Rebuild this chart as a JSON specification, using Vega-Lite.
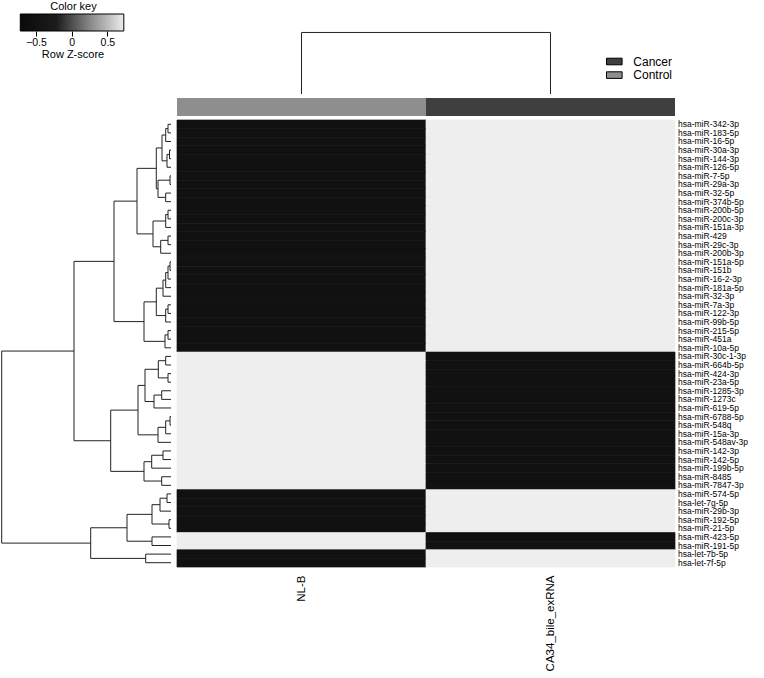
{
"$schema": "https://vega.github.io/schema/vega-lite/v6.json",
"padding": {"left": 0, "top": 0, "right": 0, "bottom": 0},
"background": "white",
"config": {"view": {"stroke": null}, "font": "Liberation Sans"},
"columns": 2,
"align": "each",
"bounds": "flush",
"spacing": {"row": 4, "column": 6},
"resolve": {"scale": {"color": "independent"}, "legend": {"color": "independent"}},
"datasets": {
"tree": [
{"node":"N1","height":3,"top":1,"topHeight":0,"bottom":2,"bottomHeight":0},
{"node":"N2","height":5.3,"top":1.5,"topHeight":3,"bottom":3,"bottomHeight":0},
{"node":"N3","height":1.5,"top":4,"topHeight":0,"bottom":5,"bottomHeight":0},
{"node":"N4","height":4,"top":4.5,"topHeight":1.5,"bottom":6,"bottomHeight":0},
{"node":"N5","height":9,"top":2.25,"topHeight":5.3,"bottom":5.25,"bottomHeight":4},
{"node":"N6","height":1,"top":7,"topHeight":0,"bottom":8,"bottomHeight":0},
{"node":"N7","height":5.3,"top":9,"topHeight":0,"bottom":10,"bottomHeight":0},
{"node":"N8","height":13,"top":7.5,"topHeight":1,"bottom":9.5,"bottomHeight":5.3},
{"node":"N9","height":14.7,"top":3.75,"topHeight":9,"bottom":8.5,"bottomHeight":13},
{"node":"N10","height":3,"top":11,"topHeight":0,"bottom":12,"bottomHeight":0},
{"node":"N11","height":5.3,"top":11.5,"topHeight":3,"bottom":13,"bottomHeight":0},
{"node":"N12","height":3,"top":14,"topHeight":0,"bottom":15,"bottomHeight":0},
{"node":"N13","height":10.3,"top":14.5,"topHeight":3,"bottom":16,"bottomHeight":0},
{"node":"N14","height":18,"top":12.25,"topHeight":5.3,"bottom":15.25,"bottomHeight":10.3},
{"node":"N15","height":34,"top":6.125,"topHeight":14.7,"bottom":13.75,"bottomHeight":18},
{"node":"N16","height":1,"top":17,"topHeight":0,"bottom":18,"bottomHeight":0},
{"node":"N17","height":3,"top":17.5,"topHeight":1,"bottom":19,"bottomHeight":0},
{"node":"N18","height":5.3,"top":18.25,"topHeight":3,"bottom":20,"bottomHeight":0},
{"node":"N19","height":8,"top":19.125,"topHeight":5.3,"bottom":21,"bottomHeight":0},
{"node":"N20","height":3,"top":22,"topHeight":0,"bottom":23,"bottomHeight":0},
{"node":"N21","height":5.3,"top":22.5,"topHeight":3,"bottom":24,"bottomHeight":0},
{"node":"N22","height":14.7,"top":20.0625,"topHeight":8,"bottom":23.25,"bottomHeight":5.3},
{"node":"N23","height":3,"top":25,"topHeight":0,"bottom":26,"bottomHeight":0},
{"node":"N24","height":6,"top":25.5,"topHeight":3,"bottom":27,"bottomHeight":0},
{"node":"N25","height":27,"top":21.656,"topHeight":14.7,"bottom":26.25,"bottomHeight":6},
{"node":"N26","height":57,"top":9.9375,"topHeight":34,"bottom":23.953,"bottomHeight":27},
{"node":"M1","height":5.3,"top":28,"topHeight":0,"bottom":29,"bottomHeight":0},
{"node":"M2","height":3,"top":30,"topHeight":0,"bottom":31,"bottomHeight":0},
{"node":"M3","height":12.7,"top":28.5,"topHeight":5.3,"bottom":30.5,"bottomHeight":3},
{"node":"M4","height":9.3,"top":32,"topHeight":0,"bottom":33,"bottomHeight":0},
{"node":"M5","height":17,"top":32.5,"topHeight":9.3,"bottom":34,"bottomHeight":0},
{"node":"M6","height":26,"top":29.5,"topHeight":12.7,"bottom":33.25,"bottomHeight":17},
{"node":"M7","height":1,"top":35,"topHeight":0,"bottom":36,"bottomHeight":0},
{"node":"M8","height":5.3,"top":35.5,"topHeight":1,"bottom":37,"bottomHeight":0},
{"node":"M9","height":13,"top":36.25,"topHeight":5.3,"bottom":38,"bottomHeight":0},
{"node":"M10","height":33,"top":31.375,"topHeight":26,"bottom":37.125,"bottomHeight":13},
{"node":"M11","height":8,"top":39,"topHeight":0,"bottom":40,"bottomHeight":0},
{"node":"M12","height":19.3,"top":39.5,"topHeight":8,"bottom":41,"bottomHeight":0},
{"node":"M13","height":9.3,"top":42,"topHeight":0,"bottom":43,"bottomHeight":0},
{"node":"M14","height":27,"top":40.25,"topHeight":19.3,"bottom":42.5,"bottomHeight":9.3},
{"node":"M15","height":60.3,"top":34.25,"topHeight":33,"bottom":41.375,"bottomHeight":27},
{"node":"T","height":97,"top":16.945,"topHeight":57,"bottom":37.8125,"bottomHeight":60.3},
{"node":"B1","height":4,"top":44,"topHeight":0,"bottom":45,"bottomHeight":0},
{"node":"B2","height":11,"top":44.5,"topHeight":4,"bottom":46,"bottomHeight":0},
{"node":"B3","height":2,"top":47,"topHeight":0,"bottom":48,"bottomHeight":0},
{"node":"B4","height":19,"top":45.25,"topHeight":11,"bottom":47.5,"bottomHeight":2},
{"node":"B5","height":19,"top":49,"topHeight":0,"bottom":50,"bottomHeight":0},
{"node":"B6","height":44,"top":46.375,"topHeight":19,"bottom":49.5,"bottomHeight":19},
{"node":"B7","height":25.3,"top":51,"topHeight":0,"bottom":52,"bottomHeight":0},
{"node":"B8","height":80.3,"top":47.9375,"topHeight":44,"bottom":51.5,"bottomHeight":25.3},
{"node":"R","height":169.3,"top":27.379,"topHeight":97,"bottom":49.719,"bottomHeight":80.3}
],
"cells": [
{"gene":"hsa-miR-342-3p","sample":"NL-B","z":-0.707},{"gene":"hsa-miR-342-3p","sample":"CA34_bile_exRNA","z":0.707},
{"gene":"hsa-miR-183-5p","sample":"NL-B","z":-0.707},{"gene":"hsa-miR-183-5p","sample":"CA34_bile_exRNA","z":0.707},
{"gene":"hsa-miR-16-5p","sample":"NL-B","z":-0.707},{"gene":"hsa-miR-16-5p","sample":"CA34_bile_exRNA","z":0.707},
{"gene":"hsa-miR-30a-3p","sample":"NL-B","z":-0.707},{"gene":"hsa-miR-30a-3p","sample":"CA34_bile_exRNA","z":0.707},
{"gene":"hsa-miR-144-3p","sample":"NL-B","z":-0.707},{"gene":"hsa-miR-144-3p","sample":"CA34_bile_exRNA","z":0.707},
{"gene":"hsa-miR-126-5p","sample":"NL-B","z":-0.707},{"gene":"hsa-miR-126-5p","sample":"CA34_bile_exRNA","z":0.707},
{"gene":"hsa-miR-7-5p","sample":"NL-B","z":-0.707},{"gene":"hsa-miR-7-5p","sample":"CA34_bile_exRNA","z":0.707},
{"gene":"hsa-miR-29a-3p","sample":"NL-B","z":-0.707},{"gene":"hsa-miR-29a-3p","sample":"CA34_bile_exRNA","z":0.707},
{"gene":"hsa-miR-32-5p","sample":"NL-B","z":-0.707},{"gene":"hsa-miR-32-5p","sample":"CA34_bile_exRNA","z":0.707},
{"gene":"hsa-miR-374b-5p","sample":"NL-B","z":-0.707},{"gene":"hsa-miR-374b-5p","sample":"CA34_bile_exRNA","z":0.707},
{"gene":"hsa-miR-200b-5p","sample":"NL-B","z":-0.707},{"gene":"hsa-miR-200b-5p","sample":"CA34_bile_exRNA","z":0.707},
{"gene":"hsa-miR-200c-3p","sample":"NL-B","z":-0.707},{"gene":"hsa-miR-200c-3p","sample":"CA34_bile_exRNA","z":0.707},
{"gene":"hsa-miR-151a-3p","sample":"NL-B","z":-0.707},{"gene":"hsa-miR-151a-3p","sample":"CA34_bile_exRNA","z":0.707},
{"gene":"hsa-miR-429","sample":"NL-B","z":-0.707},{"gene":"hsa-miR-429","sample":"CA34_bile_exRNA","z":0.707},
{"gene":"hsa-miR-29c-3p","sample":"NL-B","z":-0.707},{"gene":"hsa-miR-29c-3p","sample":"CA34_bile_exRNA","z":0.707},
{"gene":"hsa-miR-200b-3p","sample":"NL-B","z":-0.707},{"gene":"hsa-miR-200b-3p","sample":"CA34_bile_exRNA","z":0.707},
{"gene":"hsa-miR-151a-5p","sample":"NL-B","z":-0.707},{"gene":"hsa-miR-151a-5p","sample":"CA34_bile_exRNA","z":0.707},
{"gene":"hsa-miR-151b","sample":"NL-B","z":-0.707},{"gene":"hsa-miR-151b","sample":"CA34_bile_exRNA","z":0.707},
{"gene":"hsa-miR-16-2-3p","sample":"NL-B","z":-0.707},{"gene":"hsa-miR-16-2-3p","sample":"CA34_bile_exRNA","z":0.707},
{"gene":"hsa-miR-181a-5p","sample":"NL-B","z":-0.707},{"gene":"hsa-miR-181a-5p","sample":"CA34_bile_exRNA","z":0.707},
{"gene":"hsa-miR-32-3p","sample":"NL-B","z":-0.707},{"gene":"hsa-miR-32-3p","sample":"CA34_bile_exRNA","z":0.707},
{"gene":"hsa-miR-7a-3p","sample":"NL-B","z":-0.707},{"gene":"hsa-miR-7a-3p","sample":"CA34_bile_exRNA","z":0.707},
{"gene":"hsa-miR-122-3p","sample":"NL-B","z":-0.707},{"gene":"hsa-miR-122-3p","sample":"CA34_bile_exRNA","z":0.707},
{"gene":"hsa-miR-99b-5p","sample":"NL-B","z":-0.707},{"gene":"hsa-miR-99b-5p","sample":"CA34_bile_exRNA","z":0.707},
{"gene":"hsa-miR-215-5p","sample":"NL-B","z":-0.707},{"gene":"hsa-miR-215-5p","sample":"CA34_bile_exRNA","z":0.707},
{"gene":"hsa-miR-451a","sample":"NL-B","z":-0.707},{"gene":"hsa-miR-451a","sample":"CA34_bile_exRNA","z":0.707},
{"gene":"hsa-miR-10a-5p","sample":"NL-B","z":-0.707},{"gene":"hsa-miR-10a-5p","sample":"CA34_bile_exRNA","z":0.707},
{"gene":"hsa-miR-30c-1-3p","sample":"NL-B","z":0.707},{"gene":"hsa-miR-30c-1-3p","sample":"CA34_bile_exRNA","z":-0.707},
{"gene":"hsa-miR-664b-5p","sample":"NL-B","z":0.707},{"gene":"hsa-miR-664b-5p","sample":"CA34_bile_exRNA","z":-0.707},
{"gene":"hsa-miR-424-3p","sample":"NL-B","z":0.707},{"gene":"hsa-miR-424-3p","sample":"CA34_bile_exRNA","z":-0.707},
{"gene":"hsa-miR-23a-5p","sample":"NL-B","z":0.707},{"gene":"hsa-miR-23a-5p","sample":"CA34_bile_exRNA","z":-0.707},
{"gene":"hsa-miR-1285-3p","sample":"NL-B","z":0.707},{"gene":"hsa-miR-1285-3p","sample":"CA34_bile_exRNA","z":-0.707},
{"gene":"hsa-miR-1273c","sample":"NL-B","z":0.707},{"gene":"hsa-miR-1273c","sample":"CA34_bile_exRNA","z":-0.707},
{"gene":"hsa-miR-619-5p","sample":"NL-B","z":0.707},{"gene":"hsa-miR-619-5p","sample":"CA34_bile_exRNA","z":-0.707},
{"gene":"hsa-miR-6788-5p","sample":"NL-B","z":0.707},{"gene":"hsa-miR-6788-5p","sample":"CA34_bile_exRNA","z":-0.707},
{"gene":"hsa-miR-548q","sample":"NL-B","z":0.707},{"gene":"hsa-miR-548q","sample":"CA34_bile_exRNA","z":-0.707},
{"gene":"hsa-miR-15a-3p","sample":"NL-B","z":0.707},{"gene":"hsa-miR-15a-3p","sample":"CA34_bile_exRNA","z":-0.707},
{"gene":"hsa-miR-548av-3p","sample":"NL-B","z":0.707},{"gene":"hsa-miR-548av-3p","sample":"CA34_bile_exRNA","z":-0.707},
{"gene":"hsa-miR-142-3p","sample":"NL-B","z":0.707},{"gene":"hsa-miR-142-3p","sample":"CA34_bile_exRNA","z":-0.707},
{"gene":"hsa-miR-142-5p","sample":"NL-B","z":0.707},{"gene":"hsa-miR-142-5p","sample":"CA34_bile_exRNA","z":-0.707},
{"gene":"hsa-miR-199b-5p","sample":"NL-B","z":0.707},{"gene":"hsa-miR-199b-5p","sample":"CA34_bile_exRNA","z":-0.707},
{"gene":"hsa-miR-8485","sample":"NL-B","z":0.707},{"gene":"hsa-miR-8485","sample":"CA34_bile_exRNA","z":-0.707},
{"gene":"hsa-miR-7847-3p","sample":"NL-B","z":0.707},{"gene":"hsa-miR-7847-3p","sample":"CA34_bile_exRNA","z":-0.707},
{"gene":"hsa-miR-574-5p","sample":"NL-B","z":-0.707},{"gene":"hsa-miR-574-5p","sample":"CA34_bile_exRNA","z":0.707},
{"gene":"hsa-let-7g-5p","sample":"NL-B","z":-0.707},{"gene":"hsa-let-7g-5p","sample":"CA34_bile_exRNA","z":0.707},
{"gene":"hsa-miR-29b-3p","sample":"NL-B","z":-0.707},{"gene":"hsa-miR-29b-3p","sample":"CA34_bile_exRNA","z":0.707},
{"gene":"hsa-miR-192-5p","sample":"NL-B","z":-0.707},{"gene":"hsa-miR-192-5p","sample":"CA34_bile_exRNA","z":0.707},
{"gene":"hsa-miR-21-5p","sample":"NL-B","z":-0.707},{"gene":"hsa-miR-21-5p","sample":"CA34_bile_exRNA","z":0.707},
{"gene":"hsa-miR-423-5p","sample":"NL-B","z":0.707},{"gene":"hsa-miR-423-5p","sample":"CA34_bile_exRNA","z":-0.707},
{"gene":"hsa-miR-191-5p","sample":"NL-B","z":0.707},{"gene":"hsa-miR-191-5p","sample":"CA34_bile_exRNA","z":-0.707},
{"gene":"hsa-let-7b-5p","sample":"NL-B","z":-0.707},{"gene":"hsa-let-7b-5p","sample":"CA34_bile_exRNA","z":0.707},
{"gene":"hsa-let-7f-5p","sample":"NL-B","z":-0.707},{"gene":"hsa-let-7f-5p","sample":"CA34_bile_exRNA","z":0.707}
]
},
"concat": [
{
"width": 171, "height": 17,
"title": {"text": "Color key", "fontSize": 11, "fontWeight": "normal", "offset": 2, "dx": -12, "anchor": "middle", "color": "black"},
"data": {"values": [{"low": -0.72, "high": 0.73}]},
"mark": {"type": "rect", "stroke": "black", "strokeWidth": 1,
  "fill": {"gradient": "linear", "x1": 0, "y1": 0, "x2": 1, "y2": 0,
    "stops": [{"offset": 0, "color": "#0a0a0a"}, {"offset": 0.35, "color": "#1c1c1c"}, {"offset": 0.65, "color": "#808080"}, {"offset": 1, "color": "#ececec"}]}},
"encoding": {
  "x": {"field": "low", "type": "quantitative", "scale": {"domain": [-1.004, 1.391], "nice": false, "zero": false},
    "axis": {"values": [-0.5, 0, 0.5], "format": "~g", "domain": false, "grid": false, "tickSize": 5, "tickColor": "black", "labelFontSize": 10.5, "labelColor": "black", "labelPadding": 1, "title": "Row Z-score", "titleFontSize": 11, "titleFontWeight": "normal", "titleColor": "black", "titleX": 72.5, "titlePadding": 1}},
  "x2": {"field": "high"},
  "y": {"datum": 0, "type": "quantitative", "scale": {"domain": [0, 1], "nice": false}, "axis": null},
  "y2": {"datum": 1}
}
},
{
"width": 498, "height": 80,
"data": {"values": [{"left": 0.5, "right": 1.5, "height": 1}]},
"layer": [
  {"mark": {"type": "rule", "color": "#222222", "strokeWidth": 1},
   "encoding": {"x": {"field": "left", "type": "quantitative", "scale": {"domain": [0, 2], "nice": false}, "axis": null},
     "x2": {"field": "right"},
     "y": {"field": "height", "type": "quantitative", "scale": {"domain": [0, 1.3], "nice": false}, "axis": null}}},
  {"mark": {"type": "rule", "color": "#222222", "strokeWidth": 1},
   "encoding": {"x": {"field": "left", "type": "quantitative", "axis": null},
     "y": {"field": "height", "type": "quantitative", "axis": null}, "y2": {"datum": 0}}},
  {"mark": {"type": "rule", "color": "#222222", "strokeWidth": 1},
   "encoding": {"x": {"field": "right", "type": "quantitative", "axis": null},
     "y": {"field": "height", "type": "quantitative", "axis": null}, "y2": {"datum": 0}}}
]
},
{
"width": 171, "height": 18,
"data": {"values": []},
"mark": "point"
},
{
"width": 498, "height": 18,
"data": {"values": [{"sample": "NL-B", "group": "Control"}, {"sample": "CA34_bile_exRNA", "group": "Cancer"}]},
"mark": {"type": "rect"},
"encoding": {
  "x": {"field": "sample", "type": "nominal", "sort": ["NL-B", "CA34_bile_exRNA"], "scale": {"paddingInner": 0, "paddingOuter": 0}, "axis": null},
  "color": {"field": "group", "type": "nominal", "scale": {"domain": ["Cancer", "Control"], "range": ["#3f3f3f", "#8e8e8e"]},
    "legend": {"title": null, "orient": "none", "legendX": 430.8, "legendY": -43, "padding": 0,
      "symbolType": "M-1.3,-0.55H1.3V0.55H-1.3Z", "symbolSize": 144, "symbolStrokeColor": "black", "symbolStrokeWidth": 1,
      "labelFontSize": 12, "labelColor": "black", "labelOffset": 12.5, "rowPadding": 0.6}}
}
},
{
"width": 171, "height": 447,
"data": {"name": "tree"},
"layer": [
  {"mark": {"type": "rule", "color": "#222222", "strokeWidth": 1},
   "encoding": {
     "x": {"field": "height", "type": "quantitative", "scale": {"domain": [0, 171], "reverse": true, "nice": false, "zero": false}, "axis": null},
     "y": {"field": "top", "type": "quantitative", "scale": {"domain": [0.5, 52.5], "reverse": true, "nice": false, "zero": false}, "axis": null},
     "y2": {"field": "bottom"}}},
  {"mark": {"type": "rule", "color": "#222222", "strokeWidth": 1},
   "encoding": {
     "x": {"field": "topHeight", "type": "quantitative", "axis": null},
     "x2": {"field": "height"},
     "y": {"field": "top", "type": "quantitative", "axis": null}}},
  {"mark": {"type": "rule", "color": "#222222", "strokeWidth": 1},
   "encoding": {
     "x": {"field": "bottomHeight", "type": "quantitative", "axis": null},
     "x2": {"field": "height"},
     "y": {"field": "bottom", "type": "quantitative", "axis": null}}}
]
},
{
"width": 498, "height": 447,
"data": {"name": "cells"},
"mark": {"type": "rect", "strokeWidth": 0.7},
"encoding": {
  "x": {"field": "sample", "type": "nominal", "sort": ["NL-B", "CA34_bile_exRNA"], "scale": {"paddingInner": 0, "paddingOuter": 0},
    "axis": {"title": null, "labelAngle": -90, "ticks": false, "tickSize": 0, "domain": false, "labelPadding": 8, "labelFontSize": 11.5, "labelColor": "black", "labelLimit": 0}},
  "y": {"field": "gene", "type": "nominal", "sort": null, "scale": {"paddingInner": 0, "paddingOuter": 0},
    "axis": {"orient": "right", "title": null, "ticks": false, "tickSize": 0, "domain": false, "labelPadding": 2.5, "labelFontSize": 8.5, "labelColor": "black", "labelOverlap": false, "labelLimit": 0}},
  "color": {"field": "z", "type": "quantitative", "scale": {"domain": [-0.707, 0.707], "range": ["#111111", "#eeeeee"]}, "legend": null},
  "stroke": {"field": "z", "type": "quantitative", "scale": {"domain": [-0.707, 0.707], "range": ["#111111", "#eeeeee"]}, "legend": null}
}
}
]
}
